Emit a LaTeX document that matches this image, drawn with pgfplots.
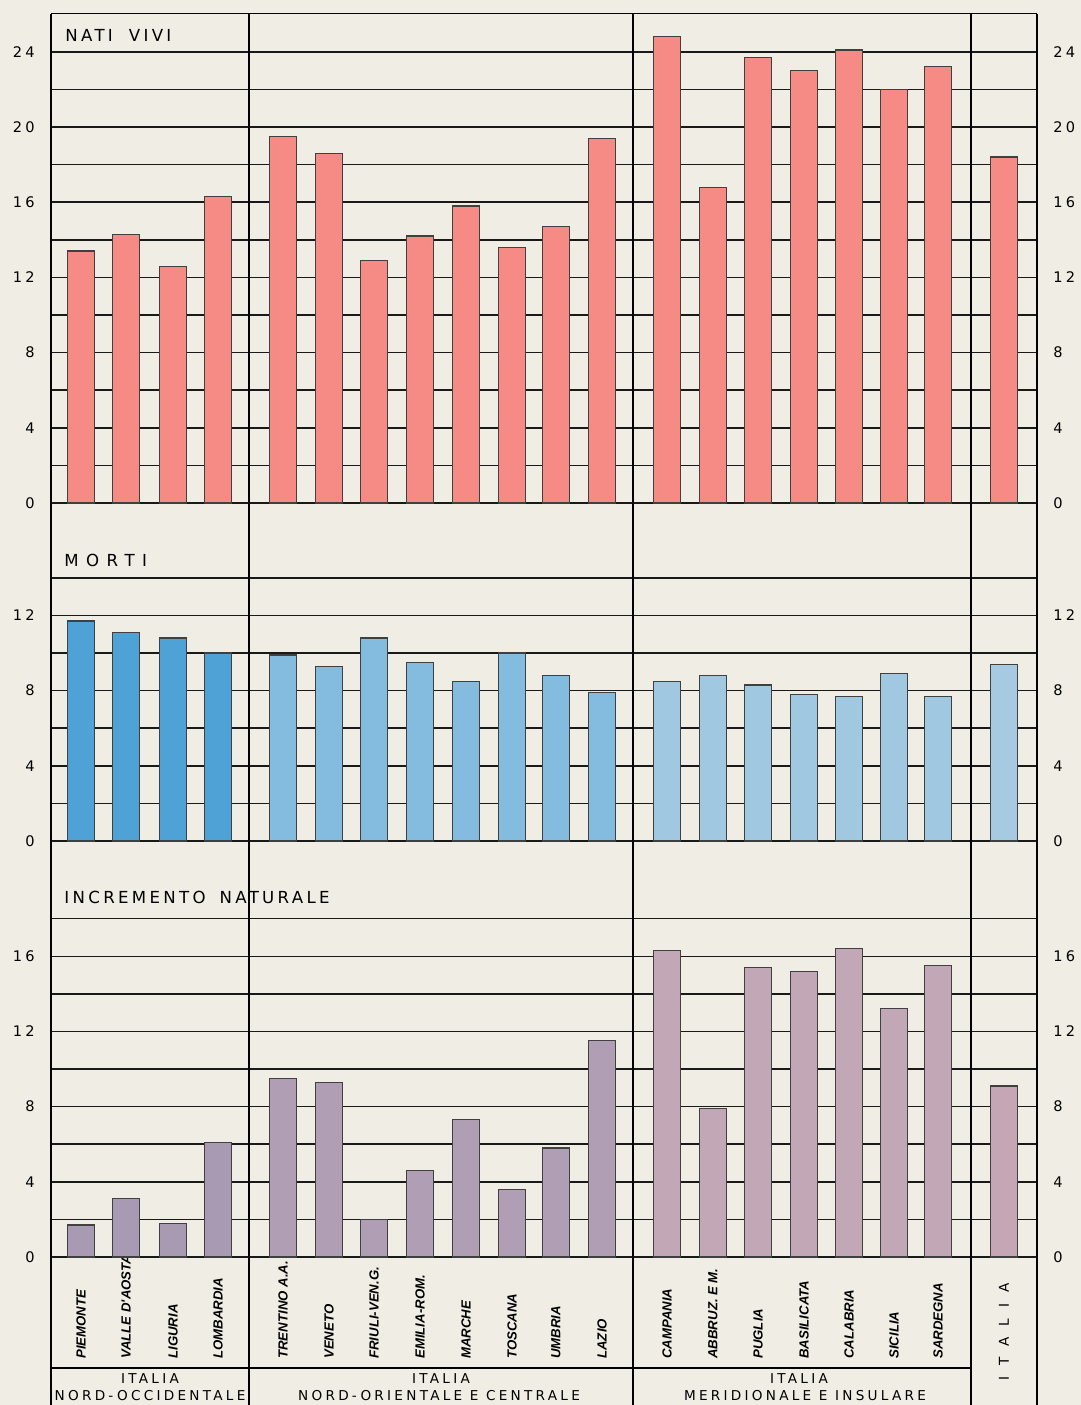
\documentclass[border=0pt]{standalone}
\usepackage{pgfplots}
\usepackage{pgfplotstable}
\pgfplotsset{compat=1.18}
\usepackage{fontspec}
\setmainfont{DejaVu Sans}
\newfontfamily\tickfont[LetterSpace=22]{DejaVu Sans}
\newfontfamily\titlefont[LetterSpace=20]{DejaVu Sans}
\newfontfamily\mortifont[LetterSpace=45]{DejaVu Sans}
\newfontfamily\groupfont[LetterSpace=24]{DejaVu Sans}
\newfontfamily\regfont{Liberation Sans}

\definecolor{bg}{RGB}{240,237,228}
\definecolor{pinkc}{RGB}{246,138,133}
\definecolor{blueA}{RGB}{78,162,214}
\definecolor{blueB}{RGB}{132,188,224}
\definecolor{blueC}{RGB}{160,200,225}
\definecolor{blueD}{RGB}{166,202,226}
\definecolor{mauA}{RGB}{168,154,178}
\definecolor{mauB}{RGB}{176,158,180}
\definecolor{mauC}{RGB}{194,167,182}
\definecolor{mauD}{RGB}{196,166,181}

% x = horizontal position of each bar (px), values per 1000 inhabitants
\pgfplotstableread{
x    nati morti incr
81   13.4 11.7  1.7
126  14.3 11.1  3.1
173  12.6 10.8  1.8
218  16.3 10.0  6.1
}\nw
\pgfplotstableread{
x    nati morti incr
283  19.5 9.9  9.5
329  18.6 9.3  9.3
374  12.9 10.8 2.0
420  14.2 9.5  4.6
466  15.8 8.5  7.3
512  13.6 10.0 3.6
556  14.7 8.8  5.8
602  19.4 7.9  11.5
}\nec
\pgfplotstableread{
x    nati morti incr
667  24.8 8.5  16.3
713  16.8 8.8  7.9
758  23.7 8.3  15.4
804  23.0 7.8  15.2
849  24.1 7.7  16.4
894  22.0 8.9  13.2
938  23.2 7.7  15.5
}\sud
\pgfplotstableread{
x    nati morti incr
1004 18.4 9.4  9.1
}\ita

\pgfplotsset{
  panel/.style={
    width=493pt, scale only axis,
    xmin=51, xmax=1037, ymin=0,
    axis line style={draw=none},
    major tick length=0pt, minor tick length=0pt,
    xtick=\empty,
    ymajorgrids, yminorgrids,
    major grid style={black!90, line width=0.75pt},
    minor grid style={black!90, line width=0.75pt},
    /pgf/number format/assume math mode=true,
    yticklabel style={font=\tickfont\fontsize{7.3}{8}\selectfont, inner sep=0pt, xshift=-8pt},
    anchor=south west,
  },
  rpanel/.style={
    width=493pt, scale only axis,
    xmin=51, xmax=1037, ymin=0,
    axis line style={draw=none},
    major tick length=0pt, minor tick length=0pt,
    xtick=\empty,
    yticklabel pos=right,
    /pgf/number format/assume math mode=true,
    yticklabel style={font=\tickfont\fontsize{7.3}{8}\selectfont, inner sep=0pt, xshift=8pt, anchor=west},
    anchor=south west,
  },
  bars/.style={ybar, bar width=27.5, bar shift=0pt, draw=black!75, line width=0.6pt},
}

\begin{document}
\begin{tikzpicture}
\useasboundingbox (0,0) rectangle (540.5pt,-702.5pt);
\fill[bg] (0,0) rectangle (540.5pt,-702.5pt);

% ---------------- NATI VIVI
\begin{axis}[panel, at={(25.5pt,-251.5pt)}, height=244.4pt, ymax=26,
  ytick={0,4,...,24}, minor ytick={2,6,...,22}]
\addplot[bars, fill=pinkc] table[x=x,y=nati]{\nw};
\addplot[bars, fill=pinkc] table[x=x,y=nati]{\nec};
\addplot[bars, fill=pinkc] table[x=x,y=nati]{\sud};
\addplot[bars, fill=pinkc] table[x=x,y=nati]{\ita};
\end{axis}
\begin{axis}[rpanel, at={(25.5pt,-251.5pt)}, height=244.4pt, ymax=26, ytick={0,4,...,24}]
\end{axis}

% ---------------- MORTI
\begin{axis}[panel, at={(25.5pt,-420.5pt)}, height=169pt, ymax=17.98,
  ytick={0,4,8,12}, minor ytick={2,6,10,14}]
\addplot[bars, fill=blueA] table[x=x,y=morti]{\nw};
\addplot[bars, fill=blueB] table[x=x,y=morti]{\nec};
\addplot[bars, fill=blueC] table[x=x,y=morti]{\sud};
\addplot[bars, fill=blueD] table[x=x,y=morti]{\ita};
\end{axis}
\begin{axis}[rpanel, at={(25.5pt,-420.5pt)}, height=169pt, ymax=17.98, ytick={0,4,8,12}]
\end{axis}

% ---------------- INCREMENTO NATURALE
\begin{axis}[panel, at={(25.5pt,-628.5pt)}, height=208pt, ymax=22.13,
  ytick={0,4,...,16}, minor ytick={2,6,...,18},
  xtick={81,126,173,218,283,329,374,420,466,512,556,602,667,713,758,804,849,894,938},
  xticklabels={PIEMONTE,VALLE D'AOSTA,LIGURIA,LOMBARDIA,TRENTINO A.A.,VENETO,FRIULI-VEN.G.,EMILIA-ROM.,MARCHE,TOSCANA,UMBRIA,LAZIO,CAMPANIA,ABBRUZ. E M.,PUGLIA,BASILICATA,CALABRIA,SICILIA,SARDEGNA},
  xticklabel style={rotate=90, anchor=west, inner sep=0pt, font=\regfont\bfseries\itshape\fontsize{6.6}{8}\selectfont},
  xticklabel shift=51pt]
\addplot[bars, fill=mauA] table[x=x,y=incr]{\nw};
\addplot[bars, fill=mauB] table[x=x,y=incr]{\nec};
\addplot[bars, fill=mauC] table[x=x,y=incr]{\sud};
\addplot[bars, fill=mauD] table[x=x,y=incr]{\ita};
\end{axis}
\begin{axis}[rpanel, at={(25.5pt,-628.5pt)}, height=208pt, ymax=22.13, ytick={0,4,...,16}]
\end{axis}

\begin{scope}[x=0.5pt,y=-0.5pt]
% frame and separators
\draw[black, line width=0.75pt] (51,13.5) -- (1037,13.5);
\foreach \xx in {51,249,633,971,1037}
  \draw[black, line width=0.75pt] (\xx,13.5) -- (\xx,1405);
\draw[black, line width=0.7pt] (51,1368) -- (971,1368);
% titles
\node[anchor=west, inner sep=0pt, font=\titlefont\fontsize{8.3}{10}\selectfont] at (65,35) {NATI\hspace{8pt}VIVI};
\node[anchor=west, inner sep=0pt, font=\mortifont\fontsize{8.3}{10}\selectfont] at (64,560) {MORTI};
\node[anchor=west, inner sep=0pt, font=\titlefont\fontsize{8.3}{10}\selectfont] at (64,897) {INCREMENTO\hspace{7pt}NATURALE};
% group labels
\begin{scope}[every node/.style={inner sep=0pt, font=\groupfont\fontsize{6.8}{8}\selectfont}]
\node at (150,1379) {ITALIA};
\node at (150,1396) {NORD-OCCIDENTALE};
\node at (441,1379) {ITALIA};
\node at (439,1396) {NORD-ORIENTALE E CENTRALE};
\node at (799,1379) {ITALIA};
\node at (805,1396) {MERIDIONALE E INSULARE};
\end{scope}
\node[rotate=90, inner sep=0pt, font=\fontsize{6.8}{8}\selectfont] at (1004,1332)
  {I\hspace{5.5pt}T\hspace{5.5pt}A\hspace{5.5pt}L\hspace{5.5pt}I\hspace{5.5pt}A};
\end{scope}
\end{tikzpicture}
\end{document}
